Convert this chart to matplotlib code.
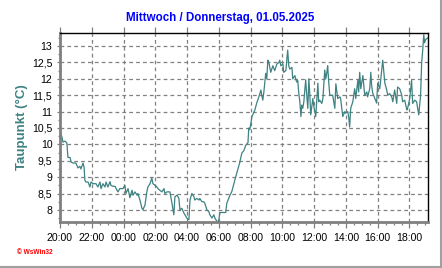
import matplotlib
matplotlib.use("Agg")
import matplotlib.pyplot as plt
from matplotlib.ticker import MultipleLocator, FixedLocator, FuncFormatter
from matplotlib.lines import Line2D

# ---- data ----
title = "Mittwoch / Donnerstag, 01.05.2025"
ylabel = "Taupunkt (°C)"
credit = "© WsWin32"

# minutes after 20:00 (Wednesday)
minutes = [0, 8, 11, 19, 26, 30, 38, 42, 49, 60, 68, 75, 79, 87, 91, 94, 98, 106, 113, 117,
           125, 136, 143, 151, 155, 162, 170, 174, 181, 189, 192, 200, 208, 215, 219, 226, 238,
           245, 249, 257, 264, 272, 276, 283, 291, 294, 302, 309, 313, 321, 328, 332, 340, 347,
           351, 359, 366, 370, 377, 385, 393, 396, 404, 415, 423, 430, 434, 442, 449, 453, 460,
           468, 472, 479, 487, 491, 498, 506, 509, 517, 525, 528, 536, 543, 547, 555, 562, 566,
           574, 581, 585, 593, 596, 600, 604, 615, 626, 630, 642, 649, 660, 668, 679, 687, 694,
           702, 710, 713, 717, 725, 736, 743, 751, 759, 762, 766, 770, 777, 781, 785, 789, 796,
           804, 811, 819, 827, 830, 834, 842, 845, 853, 860, 864, 868, 876, 879, 887, 894, 898,
           902, 906, 910, 913, 917, 921, 928, 932, 936, 940, 943, 947, 955, 958, 966, 974, 977,
           981, 989, 993, 1000, 1004, 1008, 1011, 1015, 1019, 1030, 1038, 1042, 1049, 1057, 1060,
           1068, 1076, 1079, 1087, 1091, 1094, 1098, 1106, 1113, 1117, 1125, 1128, 1132, 1136,
           1144, 1151, 1159, 1162, 1170, 1174, 1177, 1181, 1189, 1196, 1200, 1208, 1215, 1219,
           1227, 1234, 1238, 1245, 1253, 1257, 1264, 1272, 1275, 1283, 1291, 1294, 1302, 1310,
           1313, 1321, 1328, 1332, 1340, 1347, 1351, 1355, 1362, 1366, 1370, 1374, 1377, 1381,
           1389]

dewpoint = [10.44, 10.2, 10.07, 10.1, 10.04, 9.6, 9.6, 9.46, 9.43, 9.43, 9.28, 9.33, 9.25, 9.43,
            9.3, 8.9, 8.85, 8.85, 8.7, 8.85, 8.8, 8.8, 8.7, 8.85, 8.65, 8.8, 8.7, 8.85, 8.7, 8.86,
            8.75, 8.72, 8.72, 8.6, 8.55, 8.65, 8.65, 8.75, 8.5, 8.65, 8.37, 8.6, 8.45, 8.55, 8.45,
            8.5, 8.3, 8.06, 8.0, 8.15, 8.55, 8.7, 8.8, 8.97, 8.8, 8.75, 8.7, 8.65, 8.6, 8.55, 8.65,
            8.5, 8.55, 8.55, 8.2, 7.85, 8.4, 8.45, 8.35, 8.0, 8.05, 7.9, 7.85, 7.75, 7.7, 8.3, 8.5,
            8.4, 8.3, 8.35, 8.3, 8.35, 8.25, 8.25, 8.2, 8.0, 7.95, 7.85, 7.75, 7.85, 7.75, 7.65,
            7.62, 7.7, 7.92, 7.92, 7.92, 8.2, 8.45, 8.56, 8.9, 9.13, 9.45, 9.74, 9.8, 9.98, 10.05,
            10.5, 10.45, 10.85, 11.05, 11.26, 11.45, 11.66, 11.5, 11.35, 11.6, 12.17, 12.0, 12.57,
            12.5, 12.2, 12.4, 12.25, 12.45, 12.5, 12.57, 12.4, 12.45, 12.2, 12.25, 12.88, 12.4,
            12.3, 12.35, 12.0, 12.1, 11.9, 11.95, 11.55, 11.3, 10.85, 11.2, 11.1, 11.3, 11.97,
            11.5, 11.1, 12.0, 11.6, 10.9, 11.4, 11.2, 10.85, 11.87, 11.3, 11.35, 11.25, 11.4,
            12.27, 12.0, 12.2, 12.4, 11.9, 11.5, 11.5, 11.1, 11.85, 11.4, 11.45, 11.4, 10.85,
            11.0, 10.95, 11.0, 10.8, 10.53, 11.1, 11.3, 11.7, 11.4, 11.96, 11.6, 12.2, 11.7, 12.1,
            11.5, 11.6, 11.45, 11.7, 12.2, 11.8, 11.57, 11.4, 11.26, 11.87, 11.7, 12.27, 12.57,
            11.87, 11.66, 11.5, 11.55, 11.45, 11.3, 11.66, 11.25, 11.75, 11.7, 11.5, 11.3, 11.35,
            11.05, 11.1, 11.4, 11.96, 11.25, 11.35, 11.3, 11.1, 10.9, 11.5, 12.48, 12.88, 13.35,
            13.1, 13.2, 13.25]

xtick_minutes = [0, 120, 240, 360, 480, 600, 720, 840, 960, 1080, 1200, 1320]
xtick_labels = ["20:00", "22:00", "00:00", "02:00", "04:00", "06:00",
                "08:00", "10:00", "12:00", "14:00", "16:00", "18:00"]
ytick_values = [8, 8.5, 9, 9.5, 10, 10.5, 11, 11.5, 12, 12.5, 13]

# ---- figure ----
plt.rcParams['font.family'] = ['Liberation Sans', 'DejaVu Sans']
W, H = 442, 268
fig = plt.figure(figsize=(W / 100, H / 100), dpi=100)
fig.patch.set_facecolor('white')

ax = fig.add_axes([60 / W, 46 / H, (428 - 60) / W, (222 - 33) / H])
line_color = '#3e8282'
ax.plot(minutes, dewpoint, color=line_color, lw=0.9)

ax.set_xlim(0, 1390)
ax.set_ylim(7.63, 13.4)

ax.xaxis.set_major_locator(FixedLocator(xtick_minutes))
ax.set_xticklabels(xtick_labels)
ax.xaxis.set_minor_locator(MultipleLocator(30))
ax.yaxis.set_major_locator(FixedLocator(ytick_values))
ax.yaxis.set_major_formatter(FuncFormatter(lambda v, p: (f"{v:g}").replace('.', ',')))
ax.yaxis.set_minor_locator(MultipleLocator(0.25))

ax.grid(True, which='major', color='#808080', linestyle=(0, (3, 2.5)), linewidth=0.9)

ax.tick_params(axis='x', which='major', direction='out', length=4, width=0.9, color='#808080',
               labelsize=7.6, pad=4, top=True)
ax.tick_params(axis='x', which='minor', direction='out', length=2.5, width=0.9, color='#808080')
ax.tick_params(axis='y', which='major', direction='out', length=2.5, width=0.9, color='#808080',
               labelsize=7.6, pad=3)
ax.tick_params(axis='y', which='minor', direction='out', length=1.5, width=0.9, color='#808080')

for s in ['left', 'bottom']:
    ax.spines[s].set_color('#808080')
    ax.spines[s].set_linewidth(2.0)
for s in ['top', 'right']:
    ax.spines[s].set_color('black')
    ax.spines[s].set_linewidth(1.0)

ax.set_ylabel(ylabel, color=line_color, fontsize=9.5, fontweight='bold', labelpad=3)

fig.text(220 / W, 1 - 18 / H, title, ha='center', va='center', color='#0000ff',
         fontsize=8.3, fontweight='bold')
fig.text(17 / W, 1 - 253 / H, credit, ha='left', va='center', color='#ff0000',
         fontsize=4.7, fontweight='bold')

# image frame (right and bottom)
fig.add_artist(Line2D([440.5 / W, 440.5 / W], [0, 1], transform=fig.transFigure,
                      color='#a0a0a0', lw=1.5))
fig.add_artist(Line2D([0, 1], [1.5 / H, 1.5 / H], transform=fig.transFigure,
                      color='#a0a0a0', lw=1.5))

fig.savefig('out.png', dpi=100, facecolor='white')
